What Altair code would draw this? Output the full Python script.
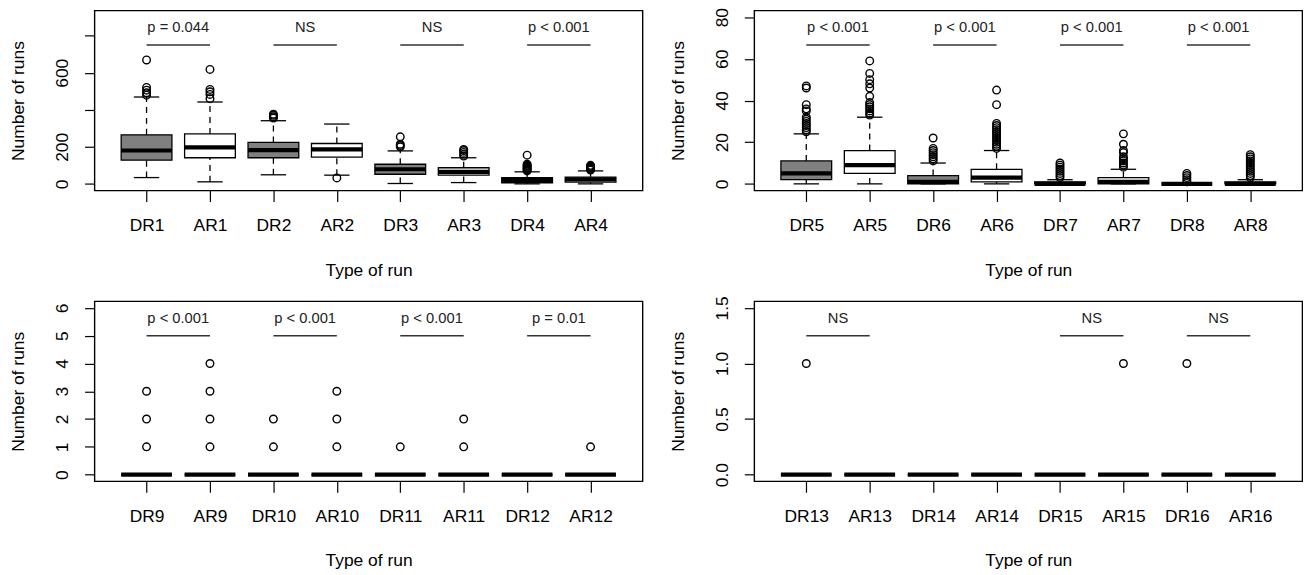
import altair as alt
import pandas as pd

FONT = "Liberation Sans"

# ---------------- Panel 1 ----------------
names1 = ["DR1", "AR1", "DR2", "AR2", "DR3", "AR3", "DR4", "AR4"]
lo1 = [34, 11, 49, 47, 2, 7, 0, 0]
q1_1 = [128, 141, 141, 144, 52, 47, 6, 9]
med1 = [180, 197, 182, 186, 79, 65, 20, 24]
q3_1 = [265, 270, 224, 218, 106, 87, 33, 36]
hi1 = [469, 442, 341, 323, 178, 141, 65, 70]
out1 = [
    [479, 492, 506, 521, 669],
    [460, 483, 497, 510, 618],
    [355, 362, 370, 376],
    [32],
    [200, 207, 214, 254],
    [150, 160, 170, 180, 186],
    [70, 75, 80, 85, 90, 95, 100, 106, 155],
    [75, 80, 85, 90, 95, 100],
]
pv1 = ["p = 0.044", "NS", "NS", "p < 0.001"]
ylim1 = 900
ticks1 = [0, 200, 400, 600, 800]
shown1 = [0, 200, 600]

# ---------------- Panel 2 ----------------
names2 = ["DR5", "AR5", "DR6", "AR6", "DR7", "AR7", "DR8", "AR8"]
lo2 = [0, 0, 0, 0, 0, 0, 0, 0]
q1_2 = [2, 5, 0, 1, 0, 0, 0, 0]
med2 = [5, 9, 1, 3, 0, 1, 0, 0]
q3_2 = [11, 16, 4, 7, 1, 3, 0, 1]
hi2 = [24, 32, 10, 16, 2, 7, 0, 2]
out2 = [
    [25, 26, 27, 28, 29, 30, 31, 32, 35, 36, 38, 46, 47],
    [33, 34, 35, 36, 37, 38, 39, 42, 46, 48, 50, 53, 59],
    [11, 12, 13, 14, 15, 16, 17, 22],
    [17, 18, 19, 20, 21, 22, 23, 24, 25, 26, 27, 28, 29, 38, 45],
    [3, 4, 5, 6, 7, 8, 9, 10],
    [8, 9, 10, 11, 12, 13, 15, 16, 19, 24],
    [1, 2, 3, 4, 5],
    [3, 4, 5, 6, 7, 8, 9, 10, 11, 12, 13, 14],
]
pv2 = ["p < 0.001", "p < 0.001", "p < 0.001", "p < 0.001"]
ylim2 = 80
ticks2 = [0, 20, 40, 60, 80]
shown2 = [0, 20, 40, 60, 80]

# ---------------- Panel 3 ----------------
names3 = ["DR9", "AR9", "DR10", "AR10", "DR11", "AR11", "DR12", "AR12"]
lo3 = [0, 0, 0, 0, 0, 0, 0, 0]
q1_3 = [0, 0, 0, 0, 0, 0, 0, 0]
med3 = [0, 0, 0, 0, 0, 0, 0, 0]
q3_3 = [0, 0, 0, 0, 0, 0, 0, 0]
hi3 = [0, 0, 0, 0, 0, 0, 0, 0]
out3 = [[1, 2, 3], [1, 2, 3, 4], [1, 2], [1, 2, 3], [1], [1, 2], [], [1]]
pv3 = ["p < 0.001", "p < 0.001", "p < 0.001", "p = 0.01"]
ylim3 = 6
ticks3 = [0, 1, 2, 3, 4, 5, 6]
shown3 = [0, 1, 2, 3, 4, 5, 6]

# ---------------- Panel 4 ----------------
names4 = ["DR13", "AR13", "DR14", "AR14", "DR15", "AR15", "DR16", "AR16"]
lo4 = [0, 0, 0, 0, 0, 0, 0, 0]
q1_4 = [0, 0, 0, 0, 0, 0, 0, 0]
med4 = [0, 0, 0, 0, 0, 0, 0, 0]
q3_4 = [0, 0, 0, 0, 0, 0, 0, 0]
hi4 = [0, 0, 0, 0, 0, 0, 0, 0]
out4 = [[1], [], [], [], [], [1], [1], []]
pv4 = ["NS", "", "NS", "NS"]
ylim4 = 1.5
ticks4 = [0, 0.5, 1.0, 1.5]
shown4 = [0, 0.5, 1.0, 1.5]

W, H = 551, 181
FS = 17.5


def make_panel(names, lo, q1, med, q3, hi, outl, pvals, ylim, ticks, shown, fmt):
    n = len(names)
    box = pd.DataFrame({
        "pos": list(range(1, n + 1)), "name": names, "grp": [s[:2] for s in names],
        "lo": lo, "q1": q1, "med": med, "q3": q3, "hi": hi,
    })
    outd = pd.DataFrame([{"pos": i + 1, "v": v} for i, vs in enumerate(outl) for v in vs],
                        columns=["pos", "v"])
    ann = pd.DataFrame([{"pair": k, "label": t} for k, t in enumerate(pvals) if t],
                       columns=["pair", "label"])
    ann["ylim"] = ylim

    xs = alt.Scale(domain=[0.5 - 0.04 * n, n + 0.5 + 0.04 * n], nice=False, zero=False)
    ys = alt.Scale(domain=[-0.04 * ylim, 1.04 * ylim], nice=False, zero=False)

    name_arr = "[" + ",".join("'%s'" % s for s in names) + "]"
    shown_arr = "[" + ",".join(str(v) for v in shown) + "]"
    xaxis = alt.Axis(
        values=list(range(1, n + 1)), labelExpr=name_arr + "[round(datum.value)-1]",
        title="Type of run", domain=False, grid=False, tickSize=11, tickWidth=1.2,
        tickColor="black", labelColor="black", labelFontSize=FS, labelFont=FONT,
        labelBaseline="alphabetic", labelPadding=29.5, labelFlush=False, labelOverlap=False,
        titleFont=FONT, titleFontSize=FS, titleFontWeight="normal", titleColor="black",
        titleBaseline="alphabetic", titleY=85, titleX=W / 2,
    )
    yaxis = alt.Axis(
        values=ticks, format=fmt,
        labelExpr="indexof(" + shown_arr + ", datum.value) >= 0 ? datum.label : ''",
        title="Number of runs", domain=False, grid=False, tickSize=10, tickWidth=1.2,
        tickColor="black", labelColor="black", labelFontSize=FS, labelFont=FONT,
        labelAngle=-90, labelAlign="center", labelBaseline="alphabetic", labelPadding=17,
        labelFlush=False, labelOverlap=False,
        titleFont=FONT, titleFontSize=FS, titleFontWeight="normal", titleColor="black",
        titleAngle=-90, titleBaseline="alphabetic", titleX=-71.5, titleY=H / 2,
    )

    def X(f):
        return alt.X(f, scale=xs, axis=xaxis)

    def Y(f):
        return alt.Y(f, scale=ys, axis=yaxis)

    base = alt.Chart(box).transform_calculate(
        bx1="datum.pos - 0.4", bx2="datum.pos + 0.4",
        sx1="datum.pos - 0.2", sx2="datum.pos + 0.2",
    )

    whisk_hi = base.mark_rule(color="black", strokeWidth=1.3, strokeDash=[6, 5]).encode(
        x=X("pos:Q"), y=Y("q3:Q"), y2="hi:Q")
    whisk_lo = base.mark_rule(color="black", strokeWidth=1.3, strokeDash=[6, 5]).encode(
        x=X("pos:Q"), y=Y("lo:Q"), y2="q1:Q")
    cap_hi = base.mark_rule(color="black", strokeWidth=1.3).encode(
        x=X("sx1:Q"), x2="sx2:Q", y=Y("hi:Q"))
    cap_lo = base.mark_rule(color="black", strokeWidth=1.3).encode(
        x=X("sx1:Q"), x2="sx2:Q", y=Y("lo:Q"))
    rect = base.mark_rect(stroke="black", strokeWidth=1.3).encode(
        x=X("bx1:Q"), x2="bx2:Q", y=Y("q1:Q"), y2="q3:Q",
        fill=alt.Fill("grp:N", scale=alt.Scale(domain=["DR", "AR"], range=["#808080", "#ffffff"]),
                      legend=None),
    )
    median = base.mark_rule(color="black", strokeWidth=4.2).encode(
        x=X("bx1:Q"), x2="bx2:Q", y=Y("med:Q"))
    pts = alt.Chart(outd).mark_point(shape="circle", filled=False, color="black",
                                     strokeWidth=1.4, size=58, opacity=1).encode(
        x=X("pos:Q"), y=Y("v:Q"))

    abase = alt.Chart(ann).transform_calculate(
        ax1="2*datum.pair + 1", ax2="2*datum.pair + 2", axm="2*datum.pair + 1.5",
        ly="datum.ylim * 5 / 6", ty="datum.ylim * 0.933",
    )
    seg = abase.mark_rule(color="#333333", strokeWidth=1.6).encode(
        x=X("ax1:Q"), x2="ax2:Q", y=Y("ly:Q"))
    txt = abase.mark_text(font=FONT, fontSize=14.8, color="#222222", baseline="middle",
                          align="center").encode(
        x=X("axm:Q"), y=Y("ty:Q"), text="label:N")

    return alt.layer(whisk_hi, whisk_lo, cap_hi, cap_lo, rect, median, pts, seg, txt).properties(
        width=W, height=H)


p1 = make_panel(names1, lo1, q1_1, med1, q3_1, hi1, out1, pv1, ylim1, ticks1, shown1, "d")
p2 = make_panel(names2, lo2, q1_2, med2, q3_2, hi2, out2, pv2, ylim2, ticks2, shown2, "d")
p3 = make_panel(names3, lo3, q1_3, med3, q3_3, hi3, out3, pv3, ylim3, ticks3, shown3, "d")
p4 = make_panel(names4, lo4, q1_4, med4, q3_4, hi4, out4, pv4, ylim4, ticks4, shown4, ".1f")

chart = alt.concat(p1, p2, p3, p4, columns=2,
                   spacing=alt.RowColnumber(row=111.3, column=112.3),
                   bounds="flush").properties(
    padding={"left": 0, "top": -3, "right": 0, "bottom": 0},
    background="white",
).configure_view(stroke="black", strokeWidth=1.4)

chart.save("out.html", embed_options={"renderer": "svg", "actions": False})
